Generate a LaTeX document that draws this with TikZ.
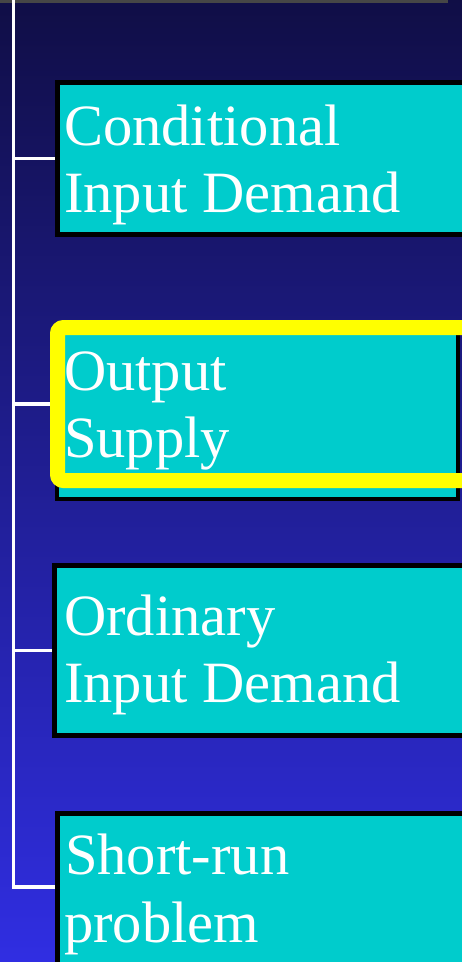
\documentclass[tikz,border=0pt]{standalone}
\usepackage{fontspec}
\setmainfont{Liberation Serif}
\definecolor{bgtop}{RGB}{16,14,70}
\definecolor{bgbot}{RGB}{48,46,226}
\definecolor{boxcyan}{RGB}{0,204,204}
\definecolor{hlyellow}{RGB}{255,255,0}
\definecolor{topline}{RGB}{70,70,70}
\tikzset{
  boxst/.style={draw=black, fill=boxcyan, rectangle, anchor=north west, inner sep=0pt},
  hlbox/.style={draw=hlyellow, line width=15pt, rounded corners=6pt, rectangle, anchor=north west, inner sep=0pt},
  label/.style={text=white, anchor=base west, inner sep=0pt, font=\fontsize{58.5}{67}\selectfont},
  conn/.style={draw=white, line width=3.2pt}
}
\begin{document}
\begin{tikzpicture}[x=1pt, y=-1pt]
\useasboundingbox (0,0) rectangle (462,962);
\clip (0,0) rectangle (462,962);
\shade[top color=bgtop, bottom color=bgbot] (0,0) rectangle (462,962);
\draw[topline, line width=2.5pt] (0,1.5) -- (448,1.5);

% boxes
\node[boxst, line width=5pt, minimum width=420pt, minimum height=152pt] (b1) at (55,80) {};
\node[boxst, line width=4pt, minimum width=401pt, minimum height=168pt] (b2) at (55,329) {};
\node[boxst, line width=5pt, minimum width=420pt, minimum height=170pt] (b3) at (52,563) {};
\node[boxst, line width=5pt, minimum width=420pt, minimum height=170pt] (b4) at (55,811) {};
\node[hlbox, minimum width=425pt, minimum height=153pt] (hl) at (50,320) {};

% texts
\node[label] (t1a) at (64,145) {Conditional};
\node[label] (t1b) at (64,212) {Input Demand};
\node[label] (t2a) at (64,390) {Output};
\node[label] (t2b) at (64,457) {Supply};
\node[label] (t3a) at (64,635) {Ordinary};
\node[label] (t3b) at (64,702) {Input Demand};
\node[label] (t4a) at (65,874) {Short-run};
\node[label] (t4b) at (64,942) {problem};

% connectors
\coordinate (trunktop) at (13.5,0);
\coordinate (trunkbot) at (13.5,887);
\draw[conn] (trunktop) -- (trunkbot) -- (trunkbot -| b4.west);
\draw[conn] (trunktop |- b1.west) -- (b1.west);
\draw[conn] (trunktop |- hl.west) -- (hl.west);
\draw[conn] (trunktop |- b3.west) -- (b3.west);
\end{tikzpicture}
\end{document}
